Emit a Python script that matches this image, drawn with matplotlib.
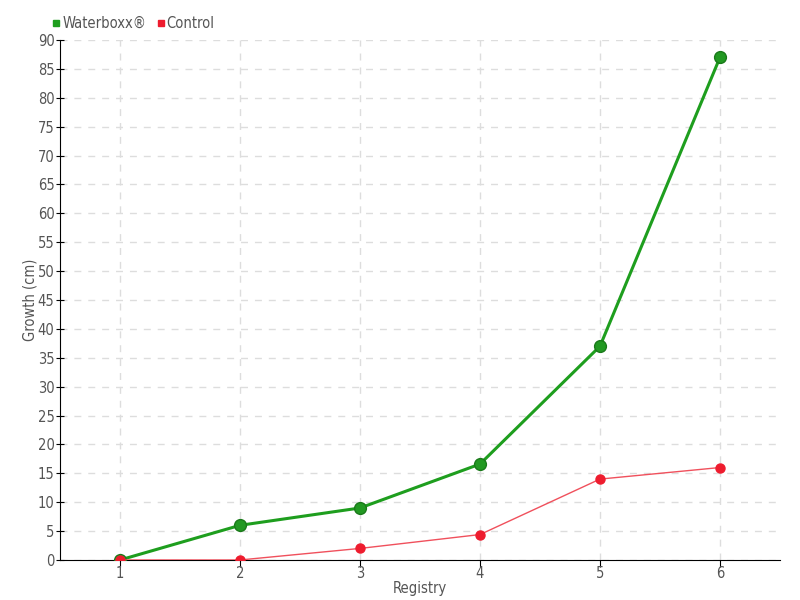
import matplotlib.pyplot as plt
from matplotlib.lines import Line2D

registry = [1, 2, 3, 4, 5, 6]
waterboxx = [0, 6, 9, 16.6, 37, 87]
control = [0, 0, 2, 4.4, 14, 16]
y_ticks = list(range(0, 95, 5))

plt.rcParams['font.family'] = ['DejaVu Sans']
plt.rcParams['font.stretch'] = 'condensed'

fig = plt.figure(figsize=(8, 6), dpi=100)
ax = fig.add_axes([0.075, 0.0667, 0.9, 0.8667])

green = '#1e9e1e'
red = '#ee1c2e'

ax.plot(registry, waterboxx, color=green, linewidth=2.2, marker='o', markersize=8.5,
        markerfacecolor='#229922', markeredgecolor='#1a7a1a', markeredgewidth=1, zorder=3)
ax.plot(registry, control, color='#f0505c', linewidth=1, marker='o', markersize=6.5,
        markerfacecolor=red, markeredgecolor=red, zorder=4)

ax.set_xlim(0.5, 6.5)
ax.set_ylim(0, 90)
ax.set_xticks(registry)
ax.set_yticks(y_ticks)

ax.grid(True, color='#dddddd', linestyle=(0, (5, 5)), linewidth=1)
ax.set_axisbelow(True)
for s in ['top', 'right']:
    ax.spines[s].set_visible(False)
ax.spines['left'].set_color('black')
ax.spines['bottom'].set_color('black')
ax.tick_params(axis='y', direction='inout', length=6, labelsize=10.5, labelcolor='#555555', pad=1)
ax.tick_params(axis='x', direction='out', length=5, labelsize=10.5, labelcolor='#555555', pad=-1)

ax.set_xlabel('Registry', fontsize=10.5, color='#555555', labelpad=0)
ax.set_ylabel('Growth (cm)', fontsize=10.5, color='#555555', labelpad=0)

handles = [Line2D([], [], marker='s', linestyle='none', color=green, markersize=5),
           Line2D([], [], marker='s', linestyle='none', color=red, markersize=5)]
fig.legend(handles, ['Waterboxx®', 'Control'], loc='upper left', bbox_to_anchor=(0.045, 0.995),
           ncol=2, frameon=False, fontsize=10.5, handletextpad=-0.1, columnspacing=0.5,
           handlelength=1, labelcolor='#555555')

fig.savefig('out.png', dpi=100)
